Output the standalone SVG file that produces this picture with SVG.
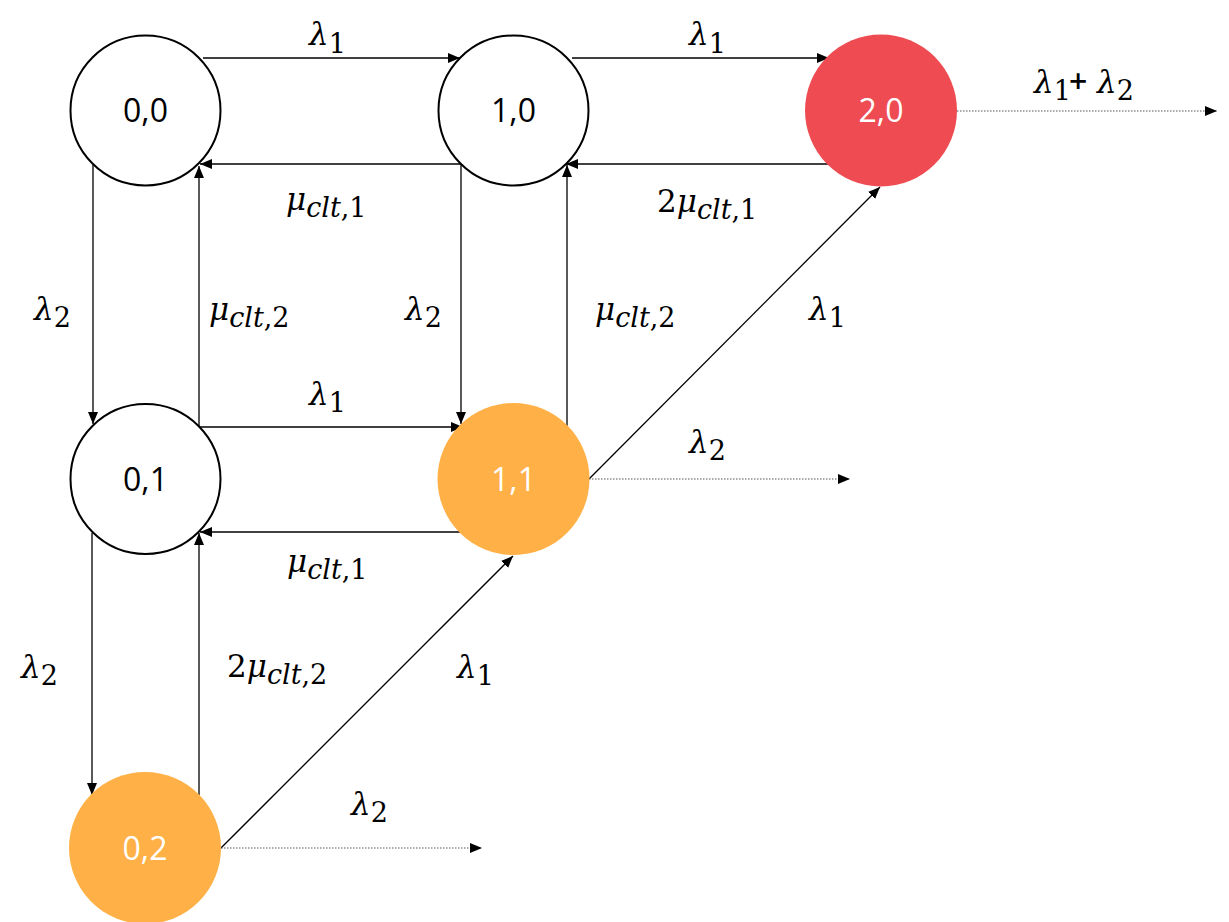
<svg xmlns="http://www.w3.org/2000/svg" width="1229" height="922" viewBox="0 0 1229 922">
<style>
.node{fill:#fff;stroke:#000;stroke-width:2}
.red{fill:#EE4C52}
.org{fill:#FFB046}
.nl{font-family:"Open Sans","Liberation Sans",sans-serif;font-size:32px;text-anchor:middle;fill:#000}
.wl{fill:#fff}
.c{fill:none;stroke:#000;stroke-width:1.3;marker-end:url(#ah)}
.d{fill:none;stroke:#555;stroke-width:1.2;stroke-dasharray:1.5 1.5;marker-end:url(#ah)}
.m{font-family:"DejaVu Serif","Liberation Serif",serif;font-style:italic;font-size:31px;fill:#000}
.s{font-size:27px;font-style:normal}
.i{font-style:italic}
.n{font-style:normal}
.p{font-family:"Open Sans","Liberation Sans",sans-serif;font-style:normal;font-size:32px;font-weight:600}
</style>
<defs>
<marker id="ah" markerUnits="userSpaceOnUse" markerWidth="12" markerHeight="10" refX="12" refY="5" orient="auto" viewBox="0 0 12 10">
<path d="M0,0 L12,5 L0,10 z" fill="#000"/>
</marker>
</defs>
<g id="connectors">
<line class="c" x1="203" y1="58" x2="460" y2="58"/>
<line class="c" x1="460" y1="164" x2="200" y2="164"/>
<line class="c" x1="572" y1="58" x2="829" y2="58"/>
<line class="c" x1="828" y1="164" x2="566" y2="164"/>
<line class="d" x1="957" y1="111" x2="1217" y2="111"/>
<line class="c" x1="93" y1="165" x2="93" y2="424"/>
<line class="c" x1="199" y1="427" x2="199" y2="166"/>
<line class="c" x1="461" y1="164" x2="461" y2="424"/>
<line class="c" x1="567" y1="427" x2="567" y2="165"/>
<line class="c" x1="199" y1="427" x2="463" y2="427"/>
<line class="c" x1="462" y1="532" x2="200" y2="532"/>
<line class="c" x1="589" y1="479" x2="880" y2="187"/>
<line class="d" x1="589" y1="479" x2="850" y2="479"/>
<line class="c" x1="92" y1="533" x2="92" y2="795"/>
<line class="c" x1="199" y1="795" x2="199" y2="533"/>
<line class="c" x1="221" y1="848" x2="513" y2="556"/>
<line class="d" x1="221" y1="848" x2="482" y2="848"/>
</g>
<g id="n00"><circle class="node" cx="145.5" cy="110.5" r="75"/><text class="nl" x="145.5" y="122">0,0</text></g>
<g id="n10"><circle class="node" cx="513.5" cy="110.5" r="75"/><text class="nl" x="513.5" y="122">1,0</text></g>
<g id="n20"><circle class="red" cx="881" cy="110.5" r="76"/><text class="nl wl" x="881" y="122">2,0</text></g>
<g id="n01"><circle class="node" cx="145.5" cy="479" r="75"/><text class="nl" x="145.5" y="491">0,1</text></g>
<g id="n11"><circle class="org" cx="513.5" cy="479" r="76"/><text class="nl wl" x="513.5" y="491">1,1</text></g>
<g id="n02"><circle class="org" cx="145" cy="848" r="76"/><text class="nl wl" x="145" y="860">0,2</text></g>
<g id="labels">
<text class="m" x="309" y="45">λ<tspan class="s" dy="8">1</tspan></text>
<text class="m" x="689" y="45">λ<tspan class="s" dy="8">1</tspan></text>
<text class="m" x="1034" y="93">λ<tspan class="s" dy="7">1</tspan><tspan class="p" x="1069" dy="-7">+</tspan><tspan x="1097">λ</tspan><tspan class="s" dy="7">2</tspan></text>
<text class="m" x="286" y="210">μ<tspan class="s" dy="7"><tspan class="i">clt</tspan>,1</tspan></text>
<text class="m" x="657" y="212"><tspan class="n">2</tspan>μ<tspan class="s" dy="7"><tspan class="i">clt</tspan>,1</tspan></text>
<text class="m" x="34" y="320">λ<tspan class="s" dy="7">2</tspan></text>
<text class="m" x="209" y="320">μ<tspan class="s" dy="7"><tspan class="i">clt</tspan>,2</tspan></text>
<text class="m" x="405" y="320">λ<tspan class="s" dy="7">2</tspan></text>
<text class="m" x="595" y="320">μ<tspan class="s" dy="7"><tspan class="i">clt</tspan>,2</tspan></text>
<text class="m" x="809" y="320">λ<tspan class="s" dy="7">1</tspan></text>
<text class="m" x="309" y="405">λ<tspan class="s" dy="7">1</tspan></text>
<text class="m" x="689" y="453">λ<tspan class="s" dy="7">2</tspan></text>
<text class="m" x="287" y="572">μ<tspan class="s" dy="7"><tspan class="i">clt</tspan>,1</tspan></text>
<text class="m" x="227" y="677"><tspan class="n">2</tspan>μ<tspan class="s" dy="7"><tspan class="i">clt</tspan>,2</tspan></text>
<text class="m" x="457" y="678">λ<tspan class="s" dy="7">1</tspan></text>
<text class="m" x="21" y="678">λ<tspan class="s" dy="7">2</tspan></text>
<text class="m" x="351" y="815">λ<tspan class="s" dy="7">2</tspan></text>
</g>
</svg>
